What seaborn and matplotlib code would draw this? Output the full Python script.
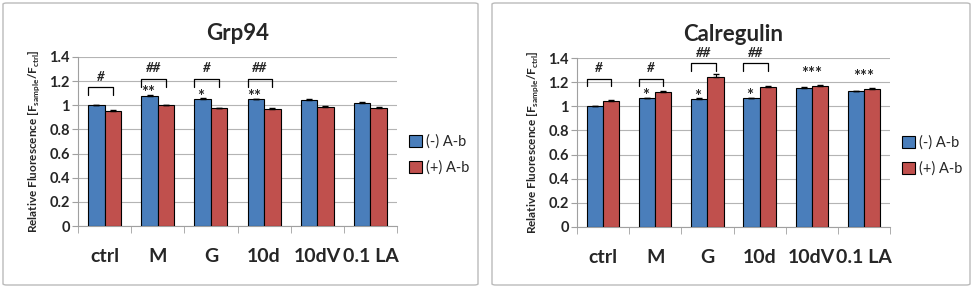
import numpy as np
import pandas as pd
import seaborn as sns
import matplotlib.pyplot as plt
from matplotlib.patches import FancyBboxPatch, Patch

sns.set_style("white")
plt.rcParams['font.family'] = ['Lato', 'DejaVu Sans']

# --- data ---
categories = ["ctrl", "M", "G", "10d", "10dV", "0.1 LA"]
groups = ["(-) A-b", "(+) A-b"]

grp94_minus = [1.00, 1.08, 1.052, 1.052, 1.045, 1.02]
grp94_plus = [0.955, 1.00, 0.975, 0.968, 0.988, 0.975]
grp94_minus_err = [0.003, 0.004, 0.006, 0.004, 0.006, 0.004]
grp94_plus_err = [0.004, 0.003, 0.006, 0.006, 0.005, 0.008]

calr_minus = [1.00, 1.065, 1.06, 1.065, 1.15, 1.125]
calr_plus = [1.045, 1.12, 1.24, 1.16, 1.17, 1.14]
calr_minus_err = [0.004, 0.005, 0.005, 0.006, 0.006, 0.004]
calr_plus_err = [0.006, 0.006, 0.03, 0.004, 0.006, 0.008]

# significance marks
grp94_hash = ["#", "##", "#", "##", "", ""]
grp94_star = ["", "**", "*", "**", "", ""]
grp94_pair_star = ["", "", "", "", "", ""]
calr_hash = ["#", "#", "##", "##", "", ""]
calr_star = ["", "*", "*", "*", "", ""]
calr_pair_star = ["", "", "", "", "***", "***"]

# bracket tops (data units)
grp94_bracket = [1.15, 1.22, 1.22, 1.22, None, None]
calr_bracket = [1.23, 1.23, 1.355, 1.355, None, None]

colors = ["#4A7EBB", "#C0504D"]


def make_df(minus, plus):
    return pd.DataFrame({
        "cat": categories * 2,
        "grp": [groups[0]] * 6 + [groups[1]] * 6,
        "val": minus + plus,
    })


def draw_panel(ax, title, minus, plus, minus_err, plus_err,
               hashes, stars, pair_stars, brackets):
    df = make_df(minus, plus)
    sns.barplot(data=df, x="cat", y="val", hue="grp", palette=colors,
                saturation=1, width=0.62, edgecolor="black", linewidth=0.8,
                errorbar=None, legend=False, ax=ax, zorder=3)

    # error bars at the bar centres
    for cont, err in zip(ax.containers, [minus_err, plus_err]):
        xs = [b.get_x() + b.get_width() / 2 for b in cont]
        hs = [b.get_height() for b in cont]
        ax.errorbar(xs, hs, yerr=[np.zeros(6), err], fmt="none",
                    ecolor="black", elinewidth=0.8, capsize=2, zorder=4)

    blue, red = ax.containers[0], ax.containers[1]
    for i in range(6):
        b, r = blue[i], red[i]
        x0 = b.get_x()
        xc_b = b.get_x() + b.get_width() / 2
        xc_r = r.get_x() + r.get_width() / 2
        top = brackets[i]
        if top is not None:
            ax.plot([x0, x0, xc_r, xc_r], [top - 0.065, top, top, top - 0.065],
                    color="black", lw=0.9, zorder=5, clip_on=False)
            ax.text((x0 + xc_r) / 2, top + 0.085, hashes[i], ha="center",
                    va="center", fontsize=9.5, fontstyle="italic",
                    fontweight="bold")
        if stars[i]:
            ax.text(xc_b - 0.03, b.get_height() + 0.02, stars[i],
                    ha="center", va="center", fontsize=12, fontweight="bold")
        if pair_stars[i]:
            ax.text(i, max(b.get_height(), r.get_height()) + 0.1,
                    pair_stars[i], ha="center", va="center", fontsize=12,
                    fontweight="bold")

    ax.set_ylim(0, 1.4)
    ax.set_xlim(-0.5, 5.5)
    ax.set_yticks(np.arange(0, 1.41, 0.2))
    ax.set_yticklabels(["0", "0.2", "0.4", "0.6", "0.8", "1", "1.2", "1.4"],
                       fontweight="bold", fontsize=10.5)
    ax.grid(axis="y", color="#B4B4B4", lw=0.8, zorder=0)
    ax.set_axisbelow(True)
    for s in ["top", "right"]:
        ax.spines[s].set_visible(False)
    for s in ["left", "bottom"]:
        ax.spines[s].set_color("#A0A0A0")
        ax.spines[s].set_linewidth(0.8)
    ax.tick_params(axis="y", left=True, length=4, color="#A0A0A0", pad=2)
    ax.set_xticks(np.arange(-0.5, 6, 1), minor=True)
    ax.tick_params(axis="x", which="major", length=0, pad=16)
    ax.tick_params(axis="x", which="minor", length=5, color="#A0A0A0",
                   direction="out", bottom=True)
    ax.set_xticklabels(categories, fontweight="bold", fontsize=14)
    ax.set_xlabel("")
    ax.set_ylabel(r"Relative Fluorescence [F$_{\mathregular{sample}}$/F$_{\mathregular{ctrl}}$]",
                  fontsize=8.5, fontweight="bold", labelpad=5)
    ax.set_title(title, fontsize=16, fontweight="bold", pad=12)

    handles = [Patch(facecolor=c, edgecolor="black", linewidth=0.8)
               for c in colors]
    ax.legend(handles, groups, loc="center left", bbox_to_anchor=(0.995, 0.42),
              frameon=False, fontsize=10.5, handlelength=0.9, handleheight=0.9,
              handletextpad=0.3, labelspacing=0.8)


fig = plt.figure(figsize=(9.74, 2.88), dpi=100)

# panel frames
for x0, x1 in [(3, 478), (492, 970)]:
    fig.patches.append(FancyBboxPatch(
        (x0 / 974, 3 / 288), (x1 - x0) / 974, 282 / 288,
        boxstyle="round,pad=0,rounding_size=0.004", transform=fig.transFigure,
        facecolor="none", edgecolor="#BBBBBB", linewidth=1.0, zorder=-1))

ax1 = fig.add_axes([78 / 974, 1 - 226 / 288, (397 - 78) / 974, (226 - 57) / 288])
ax2 = fig.add_axes([577 / 974, 1 - 227 / 288, (890 - 577) / 974, (227 - 58) / 288])

draw_panel(ax1, "Grp94", grp94_minus, grp94_plus, grp94_minus_err,
           grp94_plus_err, grp94_hash, grp94_star, grp94_pair_star,
           grp94_bracket)
draw_panel(ax2, "Calregulin", calr_minus, calr_plus, calr_minus_err,
           calr_plus_err, calr_hash, calr_star, calr_pair_star, calr_bracket)

fig.savefig("out.png", dpi=100)
